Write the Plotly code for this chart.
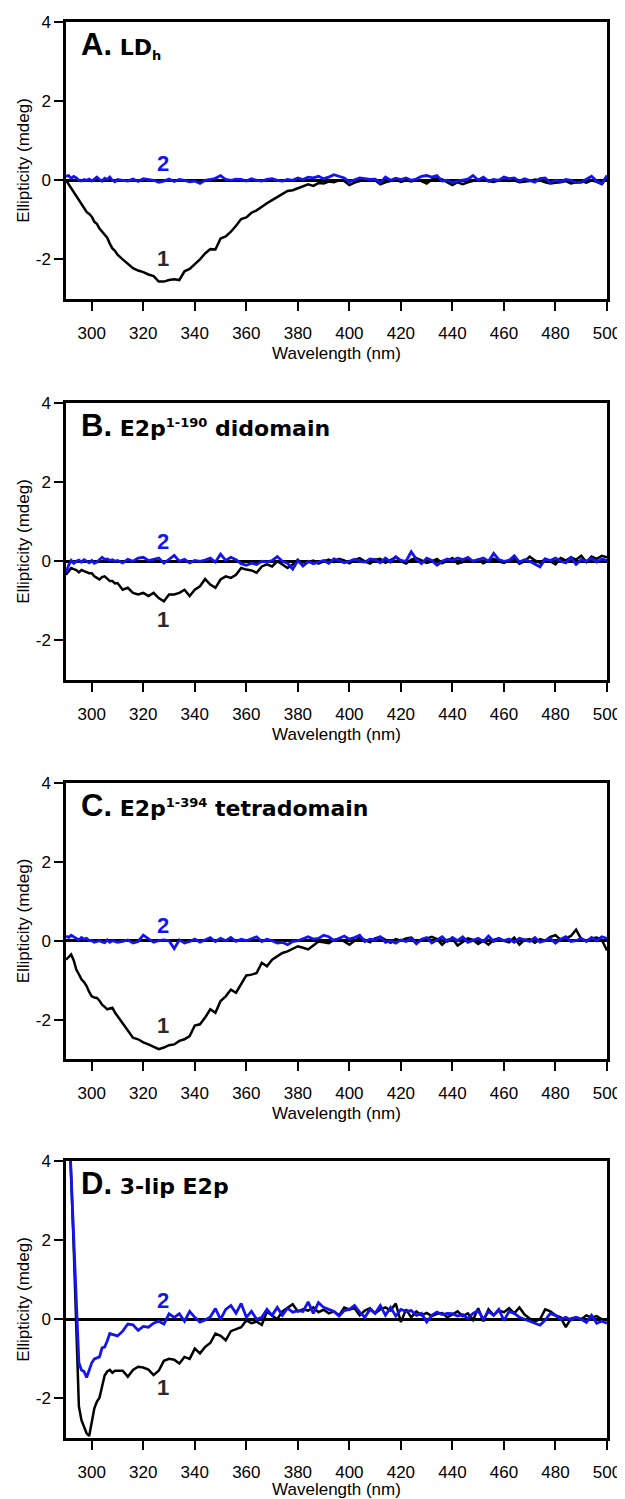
import plotly.graph_objects as go
from plotly.subplots import make_subplots

# ---------------- data ----------------
wavelength = list(range(290, 311)) + list(range(312, 501, 2))

A_black = [0.0, -0.1, -0.2, -0.3, -0.4, -0.5, -0.6, -0.7, -0.8, -0.85,
           -0.92, -1.05, -1.1, -1.22, -1.3, -1.38, -1.45, -1.6, -1.72, -1.78,
           -1.88,
           -2.0, -2.12, -2.22, -2.28, -2.32, -2.38, -2.42, -2.56, -2.56, -2.52,
           -2.5, -2.52, -2.3, -2.24, -2.12, -2.0, -1.85, -1.74, -1.75, -1.47,
           -1.42, -1.3, -1.15, -0.98, -0.94, -0.82, -0.76, -0.66, -0.58, -0.5,
           -0.43, -0.35, -0.27, -0.25, -0.2, -0.14, -0.1, -0.14, -0.07, -0.08,
           -0.03, -0.05, 0.0, -0.02, -0.12, -0.06, -0.02, 0.0, 0.02, 0.0,
           -0.1, -0.05, -0.02, 0.02, -0.04, 0.0, -0.03, 0.02, -0.02, -0.08,
           0.02, 0.05, 0.02, -0.04, -0.12, -0.05, -0.1, -0.05, -0.02, 0.02,
           0.0, -0.02, -0.04, 0.0, 0.02, -0.02, 0.0, -0.05, -0.03, -0.02,
           0.02, 0.0, -0.05, -0.08, -0.06, -0.05, -0.02, -0.08, -0.05, -0.02,
           -0.06, 0.0, -0.04, -0.1, 0.08]
A_blue = [0.1, 0.12, 0.05, 0.1, 0.06, 0.0, -0.02, 0.02, 0.0, 0.03,
          -0.02, 0.04, 0.08, 0.02, -0.02, 0.05, 0.02, 0.08, 0.0, -0.04,
          0.02,
          0.0, -0.02, 0.03, -0.03, 0.04, 0.02, 0.0, -0.05, -0.02, 0.03,
          -0.03, 0.02, 0.0, -0.04, -0.02, -0.08, 0.0, 0.02, 0.05, 0.12,
          0.02, 0.0, 0.03, 0.02, -0.02, 0.04, 0.0, -0.02, 0.02, 0.04,
          0.0, -0.02, 0.02, 0.0, 0.06, 0.02, 0.08, 0.06, 0.1, 0.04,
          0.08, 0.14, 0.1, 0.06, -0.04, 0.02, 0.06, 0.04, 0.02, 0.03,
          -0.06, 0.08, 0.0, 0.05, 0.02, 0.06, 0.0, 0.03, 0.1, 0.12,
          0.08, 0.12, -0.02, 0.0, -0.06, -0.02, 0.0, 0.03, 0.12, 0.0,
          0.08, -0.02, 0.02, 0.0, 0.08, 0.04, 0.06, -0.02, 0.04, 0.0,
          -0.05, 0.04, 0.06, -0.06, 0.0, -0.03, 0.02, 0.0, -0.06, -0.05,
          0.03, 0.1, -0.02, -0.08, 0.12]

B_black = [-0.34, -0.25, -0.17, -0.2, -0.22, -0.28, -0.22, -0.25, -0.28, -0.3,
           -0.3, -0.38, -0.42, -0.46, -0.4, -0.38, -0.44, -0.5, -0.5, -0.56,
           -0.55,
           -0.72, -0.67, -0.8, -0.84, -0.8, -0.88, -0.8, -0.93, -1.01, -0.84,
           -0.84, -0.8, -0.72, -0.88, -0.72, -0.63, -0.45, -0.59, -0.67, -0.46,
           -0.38, -0.42, -0.34, -0.17, -0.21, -0.23, -0.29, -0.13, -0.08, -0.13,
           0.0, -0.08, -0.17, -0.08, 0.04, -0.1, -0.02, 0.02, -0.06, 0.0,
           0.04, -0.02, 0.06, 0.02, -0.05, 0.03, 0.08, 0.0, -0.06, 0.04,
           0.06, -0.04, 0.02, 0.1, 0.0, -0.06, 0.04, 0.08, 0.02, -0.04,
           0.0, 0.06, -0.05, 0.02, 0.08, -0.06, -0.02, 0.05, 0.0, 0.04,
           -0.05, 0.02, 0.06, 0.0, -0.04, 0.03, 0.08, -0.06, 0.0, 0.12,
           0.02, -0.04, 0.06, 0.0, -0.08, 0.08, 0.02, 0.1, 0.04, 0.14,
           -0.02, 0.12, 0.06, 0.14, 0.1]
B_blue = [-0.3, -0.1, 0.02, -0.05, 0.0, 0.03, -0.02, 0.04, 0.0, -0.04,
          0.02, -0.05, -0.02, 0.04, 0.1, 0.05, 0.06, 0.02, 0.04, 0.0,
          0.02,
          -0.04, 0.05, 0.0, 0.08, 0.1, 0.02, 0.05, 0.08, -0.05, 0.06,
          0.15, 0.0, 0.05, -0.04, 0.02, 0.0, 0.03, 0.08, -0.02, 0.18,
          0.02, 0.1, 0.04, -0.06, -0.1, -0.05, -0.08, 0.0, -0.02, 0.02,
          0.12, 0.0, -0.05, -0.2, 0.02, -0.12, 0.0, -0.06, -0.02, 0.02,
          -0.05, 0.06, 0.02, -0.04, 0.0, 0.05, 0.0, -0.02, 0.06, 0.04,
          -0.04, 0.08, -0.02, 0.12, 0.02, 0.0, 0.24, 0.05, -0.06, 0.08,
          0.02, -0.1, 0.0, 0.06, 0.02, 0.08, 0.04, 0.1, 0.0, 0.05,
          0.08, 0.0, 0.2, 0.04, 0.0, 0.02, 0.14, -0.02, 0.04, 0.0,
          -0.06, -0.14, 0.06, 0.02, 0.08, 0.0, -0.04, 0.1, -0.08, 0.04,
          0.0, 0.08, -0.02, 0.06, 0.02]

C_black = [-0.48, -0.4, -0.35, -0.5, -0.73, -0.85, -0.98, -1.05, -1.15, -1.3,
           -1.41, -1.44, -1.45, -1.52, -1.62, -1.68, -1.74, -1.72, -1.7, -1.82,
           -1.91,
           -2.08, -2.25, -2.46, -2.5, -2.58, -2.63, -2.69, -2.75, -2.71, -2.65,
           -2.63, -2.54, -2.5, -2.42, -2.15, -2.12, -1.95, -1.74, -1.83, -1.53,
           -1.41, -1.24, -1.32, -1.09, -0.88, -0.86, -0.82, -0.56, -0.65, -0.48,
           -0.4, -0.31, -0.27, -0.21, -0.14, -0.18, -0.22, -0.12, -0.02, -0.04,
           -0.06, 0.02, 0.05, -0.02, -0.1, 0.0, 0.08, 0.02, -0.04, 0.06,
           0.1, 0.02, -0.05, 0.04, 0.0, 0.06, 0.08, -0.04, 0.0, 0.05,
           0.1, 0.04, -0.1, 0.02, 0.05, -0.12, -0.02, 0.06, 0.02, -0.08,
           0.0, -0.1, 0.02, 0.06, 0.0, -0.04, 0.08, -0.1, 0.02, 0.04,
           -0.05, 0.04, 0.0, 0.1, 0.14, 0.02, 0.06, 0.12, 0.28, 0.04,
           0.0, 0.06, 0.08, 0.02, -0.25]
C_blue = [0.12, 0.08, 0.14, 0.1, 0.06, 0.02, 0.08, 0.04, 0.06, 0.0,
          0.0, -0.04, -0.02, 0.0, -0.03, -0.05, 0.02, -0.04, 0.0, -0.02,
          -0.04,
          -0.02, 0.02, -0.06, -0.02, 0.14, 0.05, -0.04, 0.0, 0.02, 0.0,
          -0.2, 0.02, -0.06, -0.02, 0.04, -0.04, 0.02, 0.08, -0.02, 0.06,
          0.0, 0.08, -0.02, 0.04, 0.0, 0.05, 0.1, -0.02, 0.04, 0.0,
          -0.06, -0.04, -0.1, -0.02, 0.0, 0.05, 0.1, 0.04, 0.06, 0.14,
          0.1, 0.0, 0.06, 0.12, 0.04, 0.08, 0.14, -0.02, 0.04, 0.02,
          0.1, -0.04, 0.0, -0.06, 0.02, -0.02, 0.06, -0.08, 0.04, 0.08,
          -0.06, 0.02, 0.1, -0.02, 0.08, 0.0, 0.1, -0.04, 0.02, 0.06,
          -0.02, 0.12, -0.02, 0.06, 0.0, 0.04, -0.04, 0.06, 0.02, -0.02,
          0.08, -0.04, 0.0, 0.06, -0.06, 0.04, 0.1, -0.02, 0.0, 0.06,
          -0.02, 0.08, 0.0, 0.1, 0.06]

D_black = [7.0, 5.5, 3.6, 1.8, 0.0, -2.2, -2.55, -2.7, -2.88, -2.95,
           -2.6, -2.25, -2.08, -1.98, -1.7, -1.42, -1.32, -1.28, -1.35, -1.3,
           -1.3,
           -1.3, -1.45, -1.28, -1.2, -1.22, -1.27, -1.41, -1.3, -1.05, -1.0,
           -1.02, -1.12, -0.95, -1.0, -0.74, -0.86, -0.7, -0.6, -0.36, -0.42,
           -0.53, -0.3, -0.26, -0.2, -0.03, -0.1, -0.06, -0.14, 0.19, 0.1,
           0.0, 0.2, 0.28, 0.38, 0.2, 0.25, 0.22, 0.3, 0.18, 0.24,
           0.15, 0.2, 0.1, 0.3, 0.25, 0.28, 0.1, 0.22, 0.28, 0.15,
           0.25, 0.3, 0.22, 0.4, -0.07, 0.25, 0.05, 0.2, 0.1, 0.16,
           0.08, 0.14, 0.16, 0.05, 0.12, 0.2, 0.08, 0.15, -0.02, 0.28,
           -0.05, 0.25, 0.1, 0.22, 0.18, 0.28, 0.15, 0.3, 0.12, 0.02,
           -0.05, 0.0, 0.25, 0.2, 0.1, 0.05, -0.2, 0.02, 0.05, 0.0,
           0.1, 0.04, 0.08, 0.0, -0.02]
D_blue = [6.8, 5.2, 3.5, 1.9, 0.2, -1.1, -1.28, -1.32, -1.47, -1.3,
          -1.1, -1.0, -0.98, -0.95, -0.72, -0.7, -0.55, -0.36, -0.38, -0.4,
          -0.42,
          -0.3, -0.12, -0.14, -0.28, -0.18, -0.2, -0.1, -0.05, -0.12, 0.14,
          0.05, 0.14, -0.05, 0.2, 0.05, -0.07, -0.02, 0.06, 0.27, 0.0,
          0.25, 0.35, 0.15, 0.4, 0.05, 0.2, 0.0, 0.05, 0.25, 0.1,
          0.3, 0.1, 0.28, 0.18, 0.22, 0.2, 0.44, 0.15, 0.42, 0.3,
          0.25, 0.2, 0.08, 0.22, 0.25, 0.35, 0.18, 0.05, 0.25, 0.15,
          0.35, 0.1, 0.3, 0.08, 0.25, 0.2, 0.22, 0.1, 0.15, -0.07,
          0.1, 0.18, 0.12, 0.15, 0.14, 0.08, 0.12, 0.02, 0.15, 0.22,
          0.0, 0.2, 0.1, 0.25, -0.03, 0.2, 0.15, 0.05, 0.0, -0.05,
          -0.1, -0.15, -0.02, 0.15, 0.1, 0.0, 0.05, -0.02, 0.05, 0.0,
          -0.08, 0.1, -0.1, -0.05, -0.1]

SUP = '<sup><span style="font-size:13px">{}</span></sup>'
SUB = '<sub><span style="font-size:13px">{}</span></sub>'
panels = [
    ("A.", "LD" + SUB.format("h"), A_black, A_blue, (327.6, -1.97), (327.6, 0.43)),
    ("B.", "E2p" + SUP.format("1-190") + " didomain", B_black, B_blue, (327.6, -1.46), (327.6, 0.49)),
    ("C.", "E2p" + SUP.format("1-394") + " tetradomain", C_black, C_blue, (327.6, -2.16), (327.6, 0.38)),
    ("D.", "3-lip E2p", D_black, D_blue, (327.6, -1.72), (327.6, 0.48)),
]

x_ticks = list(range(300, 501, 20))
y_tick_vals = [-2, 0, 2, 4]
y_tick_text = ["-2", "0", "2", "4"]
x_title = "Wavelength (nm)"
y_title = "Ellipticity (mdeg)"

# ---------------- layout ----------------
# page body adds an 8px offset, so the figure is sized 8px smaller
OFF = 8
W, H = 625 - OFF, 1499 - OFF
plot_left, plot_right = 66 - OFF, 607 - OFF
panel_px = [(22 - OFF, 299 - OFF), (403 - OFF, 680 - OFF),
            (783 - OFF, 1059 - OFF), (1161 - OFF, 1438 - OFF)]
BLUE = "#1414f0"
FONT = "Liberation Sans, Arial, sans-serif"
TFONT = "DejaVu Sans, Verdana, sans-serif"

fig = make_subplots(rows=4, cols=1)

for i, (letter, name, yb, yl, pos1, pos2) in enumerate(panels):
    r = i + 1
    fig.add_trace(go.Scatter(x=wavelength, y=yb, mode="lines",
                             line=dict(color="black", width=2.5), showlegend=False), row=r, col=1)
    fig.add_trace(go.Scatter(x=wavelength, y=yl, mode="lines",
                             line=dict(color=BLUE, width=2.8), showlegend=False), row=r, col=1)
    top, bot = panel_px[i]
    fig.update_xaxes(row=r, col=1, range=[290, 500], tickvals=x_ticks,
                     domain=[plot_left / W, plot_right / W],
                     showline=True, linecolor="black", linewidth=2.5, mirror=True,
                     ticks="outside", ticklen=9, tickwidth=2, tickcolor="black",
                     showgrid=False, zeroline=False, ticklabelstandoff=8,
                     tickfont=dict(family=FONT, size=17, color="black"),
                     title=dict(text=x_title, font=dict(family=FONT, size=17, color="black"),
                                standoff=5),
                     automargin=False)
    fig.update_yaxes(row=r, col=1, range=[-3, 4], tickvals=y_tick_vals, ticktext=y_tick_text,
                     domain=[1 - bot / H, 1 - top / H],
                     showline=True, linecolor="black", linewidth=2.5, mirror=True,
                     ticks="outside", ticklen=9, tickwidth=2, tickcolor="black",
                     showgrid=False, zeroline=True, zerolinecolor="black", zerolinewidth=2.5,
                     tickfont=dict(family=FONT, size=17, color="black"),
                     title=dict(text=y_title, font=dict(family=FONT, size=17, color="black"),
                                standoff=2),
                     automargin=False)
    xr = "x" if r == 1 else f"x{r}"
    yr = "y" if r == 1 else f"y{r}"
    fig.add_annotation(xref=f"{xr} domain", yref=f"{yr} domain", x=0.024, y=0.99,
                       xanchor="left", yanchor="top", showarrow=False,
                       text=(f'<b><span style="font-family:Liberation Sans, Arial;font-size:31px">'
                             f'{letter}</span> {name}</b>'),
                       font=dict(family=TFONT, size=22, color="black"))
    fig.add_annotation(xref=xr, yref=yr, x=pos1[0], y=pos1[1], showarrow=False,
                       text="<b>1</b>", font=dict(family=FONT, size=22, color="#2a2a2a"))
    fig.add_annotation(xref=xr, yref=yr, x=pos2[0], y=pos2[1], showarrow=False,
                       text="<b>2</b>", font=dict(family=FONT, size=22, color=BLUE))

fig.update_layout(width=W, height=H, margin=dict(l=0, r=0, t=0, b=0),
                  paper_bgcolor="white", plot_bgcolor="white", showlegend=False)

fig.write_html("out.html")
